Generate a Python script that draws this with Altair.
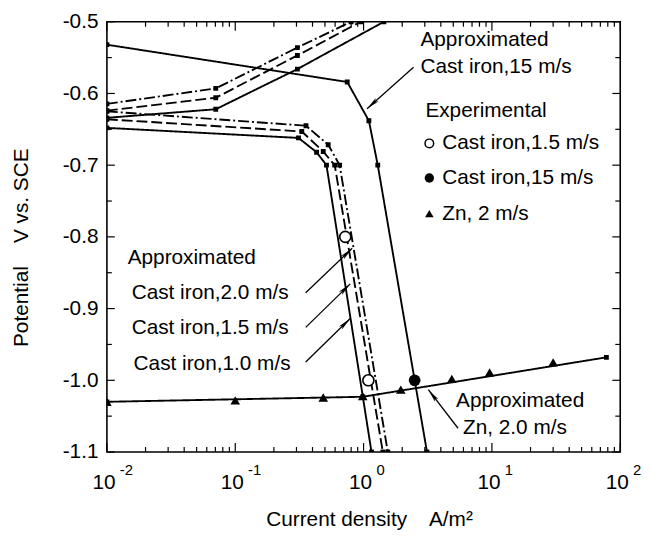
import math
import altair as alt
import pandas as pd

W, H = 519, 435
FONT = "Liberation Sans"

# ---------------- data ----------------
# approximated curves (x: current density A/m2, y: potential V vs SCE)
ci15_x = [0.01, 0.746, 1.10, 1.29, 3.12]
ci15_y = [-0.532, -0.584, -0.638, -0.700, -1.100]

an_solid_x = [0.01, 0.0705, 0.305, 1.44]
an_solid_y = [-0.634, -0.622, -0.566, -0.500]
an_dash_x = [0.01, 0.0705, 0.305, 0.95]
an_dash_y = [-0.624, -0.606, -0.547, -0.500]
an_dashdot_x = [0.01, 0.0705, 0.305, 0.80]
an_dashdot_y = [-0.6145, -0.593, -0.536, -0.500]

ci10_x = [0.01, 0.311, 0.4305, 0.514, 1.153]
ci10_y = [-0.648, -0.662, -0.682, -0.700, -1.100]
ci15s_x = [0.01, 0.330, 0.485, 0.596, 1.413]
ci15s_y = [-0.636, -0.653, -0.681, -0.700, -1.100]
ci20_x = [0.01, 0.356, 0.530, 0.651, 1.545]
ci20_y = [-0.625, -0.645, -0.6715, -0.700, -1.100]

zn_x = [0.01, 0.985, 78.0]
zn_y = [-1.030, -1.023, -0.968]

# experimental points
exp_open_x = [0.72, 1.09]
exp_open_y = [-0.800, -1.000]
exp_fill_x = [2.5]
exp_fill_y = [-1.000]
exp_zn_x = [0.01, 0.1, 0.485, 0.985, 1.95, 4.87, 9.6, 30.0]
exp_zn_y = [-1.030, -1.028, -1.024, -1.022, -1.013, -0.998, -0.989, -0.975]

# axis ticks / labels
x_major = [0.01, 0.1, 1, 10, 100]
x_exp = ["-2", "-1", "0", "1", "2"]
x_minor = [m * d for d in [0.01, 0.1, 1, 10] for m in range(2, 10)]
y_major = [-0.5, -0.6, -0.7, -0.8, -0.9, -1.0, -1.1]
y_minor = [-0.55, -0.65, -0.75, -0.85, -0.95, -1.05]

# ---------------- tables ----------------
curves = [
    ("ci15", "solid", ci15_x, ci15_y),
    ("an_solid", "solid", an_solid_x, an_solid_y),
    ("an_dash", "dash", an_dash_x, an_dash_y),
    ("an_dashdot", "dashdot", an_dashdot_x, an_dashdot_y),
    ("ci10", "solid", ci10_x, ci10_y),
    ("ci15s", "dash", ci15s_x, ci15s_y),
    ("ci20", "dashdot", ci20_x, ci20_y),
    ("zn", "solid", zn_x, zn_y),
]
rows = []
for name, style, xs_, ys_ in curves:
    for i, (a, b) in enumerate(zip(xs_, ys_)):
        rows.append({"series": name, "style": style, "x": a, "y": b, "i": i})
lines_df = pd.DataFrame(rows)

xs = alt.Scale(type="log", domain=[0.01, 100], nice=False)
ys = alt.Scale(domain=[-1.1, -0.5], nice=False, zero=False)

base = alt.Chart(lines_df)

lines = base.mark_line(strokeWidth=1.9, color="black", clip=True).encode(
    x=alt.X("x:Q", scale=xs, axis=alt.Axis(
        labels=False, ticks=False, tickSize=0, domain=False, grid=False,
        title="Current density\u00a0\u00a0\u00a0 A/m\u00b2", titleFontSize=21,
        titleFont=FONT, titleFontWeight="normal", titleColor="black",
        titleX=265, titleY=68, titleBaseline="middle", titleAlign="center")),
    y=alt.Y("y:Q", scale=ys, axis=alt.Axis(
        values=y_major, ticks=False, tickSize=0, domain=False, grid=False,
        labelFontSize=21, labelFont=FONT, labelColor="black", labelPadding=9,
        labelExpr="'-' + format(abs(datum.value), '.1f')",
        title="Potential\u00a0\u00a0\u00a0 V vs. SCE", titleFontSize=21,
        titleFont=FONT, titleFontWeight="normal", titleColor="black",
        titleX=-86, titleY=228, titleBaseline="middle", titleAlign="center",
        titleAngle=270)),
    detail="series:N",
    order="i:Q",
    strokeDash=alt.StrokeDash("style:N", scale=alt.Scale(
        domain=["solid", "dash", "dashdot"],
        range=[[1, 0], [11, 4], [11, 3, 2, 3]]), legend=None),
)

vertex = base.mark_point(shape="square", filled=True, size=24, color="black",
                         opacity=1, clip=True).encode(
    x=alt.X("x:Q", scale=xs), y=alt.Y("y:Q", scale=ys))

open_pts = alt.Chart(pd.DataFrame({"x": exp_open_x, "y": exp_open_y})).mark_point(
    shape="circle", filled=True, fill="white", stroke="black", strokeWidth=1.6,
    size=125, opacity=1).encode(x=alt.X("x:Q", scale=xs), y=alt.Y("y:Q", scale=ys))
fill_pts = alt.Chart(pd.DataFrame({"x": exp_fill_x, "y": exp_fill_y})).mark_point(
    shape="circle", filled=True, color="black", size=140, opacity=1).encode(
    x=alt.X("x:Q", scale=xs), y=alt.Y("y:Q", scale=ys))
zn_pts = alt.Chart(pd.DataFrame({"x": exp_zn_x, "y": exp_zn_y})).mark_point(
    shape="triangle-up", filled=True, color="black", size=95, opacity=1, clip=True).encode(
    x=alt.X("x:Q", scale=xs), y=alt.Y("y:Q", scale=ys))

# ---------------- inward ticks ----------------
def xticks(vals, length):
    d = alt.Chart(pd.DataFrame({"v": vals}))
    bot = d.mark_rule(color="black", strokeWidth=1.2).encode(
        x=alt.X("v:Q", scale=xs), y=alt.value(H), y2=alt.value(H - length))
    top = d.mark_rule(color="black", strokeWidth=1.2).encode(
        x=alt.X("v:Q", scale=xs), y=alt.value(0), y2=alt.value(length))
    return [bot, top]

def yticks(vals, length):
    d = alt.Chart(pd.DataFrame({"v": vals}))
    left = d.mark_rule(color="black", strokeWidth=1.2).encode(
        y=alt.Y("v:Q", scale=ys), x=alt.value(0), x2=alt.value(length))
    right = d.mark_rule(color="black", strokeWidth=1.2).encode(
        y=alt.Y("v:Q", scale=ys), x=alt.value(W), x2=alt.value(W - length))
    return [left, right]

ticks = xticks(x_major, 9) + xticks(x_minor, 5) + yticks(y_major, 8) + yticks(y_minor, 5)

# x tick labels 10^n
xl = alt.Chart(pd.DataFrame({"v": x_major, "e": x_exp, "t": ["10"] * 5}))
xlab_base = xl.mark_text(font=FONT, fontSize=21, color="black", align="center",
                         baseline="middle", dx=-3).encode(
    x=alt.X("v:Q", scale=xs), y=alt.value(H + 31), text="t:N")
xlab_exp = xl.mark_text(font=FONT, fontSize=15, color="black", align="left",
                        baseline="middle", dx=13).encode(
    x=alt.X("v:Q", scale=xs), y=alt.value(H + 18), text="e:N")

# ---------------- annotations (pixel positions of the figure) ----------------
OX, OY = 108, 19

def label(text, px, py, size=21, align="left"):
    return alt.Chart(pd.DataFrame({"t": [text]})).mark_text(
        font=FONT, fontSize=size, color="black", align=align, baseline="middle").encode(
        x=alt.value(px - OX), y=alt.value(py - OY), text="t:N")

def arrow(x1, y1, x2, y2):
    d = alt.Chart(pd.DataFrame({"a": [0]}))
    shaft = d.mark_rule(color="black", strokeWidth=1.3).encode(
        x=alt.value(x1 - OX), y=alt.value(y1 - OY), x2=alt.value(x2 - OX), y2=alt.value(y2 - OY))
    ang = math.degrees(math.atan2(x2 - x1, -(y2 - y1))) % 360
    head = d.mark_point(shape="M0,0L-0.32,2L0,1.55L0.32,2Z", size=190, filled=True,
                        color="black", opacity=1, angle=ang).encode(
        x=alt.value(x2 - OX), y=alt.value(y2 - OY))
    return [shaft, head]

def sym(shape, px, py, filled, size):
    d = alt.Chart(pd.DataFrame({"a": [0]}))
    if filled:
        m = d.mark_point(shape=shape, filled=True, color="black", size=size, opacity=1)
    else:
        m = d.mark_point(shape=shape, filled=True, fill="white", stroke="black",
                         strokeWidth=1.5, size=size, opacity=1)
    return m.encode(x=alt.value(px - OX), y=alt.value(py - OY))

ann = [
    label("Approximated", 425, 38),
    label("Cast iron,15 m/s", 425, 65),
    label("Experimental", 430, 109),
    sym("circle", 434, 142, False, 75),
    label("Cast iron,1.5 m/s", 447, 142),
    sym("circle", 434, 177, True, 90),
    label("Cast iron,15 m/s", 447, 177),
    sym("triangle-up", 434, 213, True, 75),
    label("Zn, 2 m/s", 447, 213),
    label("Approximated", 129, 258),
    label("Cast iron,2.0 m/s", 133, 293),
    label("Cast iron,1.5 m/s", 133, 329),
    label("Cast iron,1.0 m/s", 135, 365),
    label("Approximated", 461, 402),
    label("Zn, 2.0 m/s", 468, 430),
]
ann += arrow(418, 65, 371, 107)
ann += arrow(309, 293, 356, 248)
ann += arrow(309, 328, 354, 284)
ann += arrow(309, 363, 354, 319)
ann += arrow(463, 430, 433, 391)

chart = alt.layer(lines, vertex, zn_pts, open_pts, fill_pts, *ticks,
                  xlab_base, xlab_exp, *ann).properties(
    width=W, height=H,
    autosize=alt.AutoSizeParams(type="none"),
    padding={"left": 100, "top": 11, "right": 22, "bottom": 80},
).configure(font=FONT).configure_view(stroke="black", strokeWidth=1.6)

chart.save("out.html", embed_options={"renderer": "svg", "actions": False})
